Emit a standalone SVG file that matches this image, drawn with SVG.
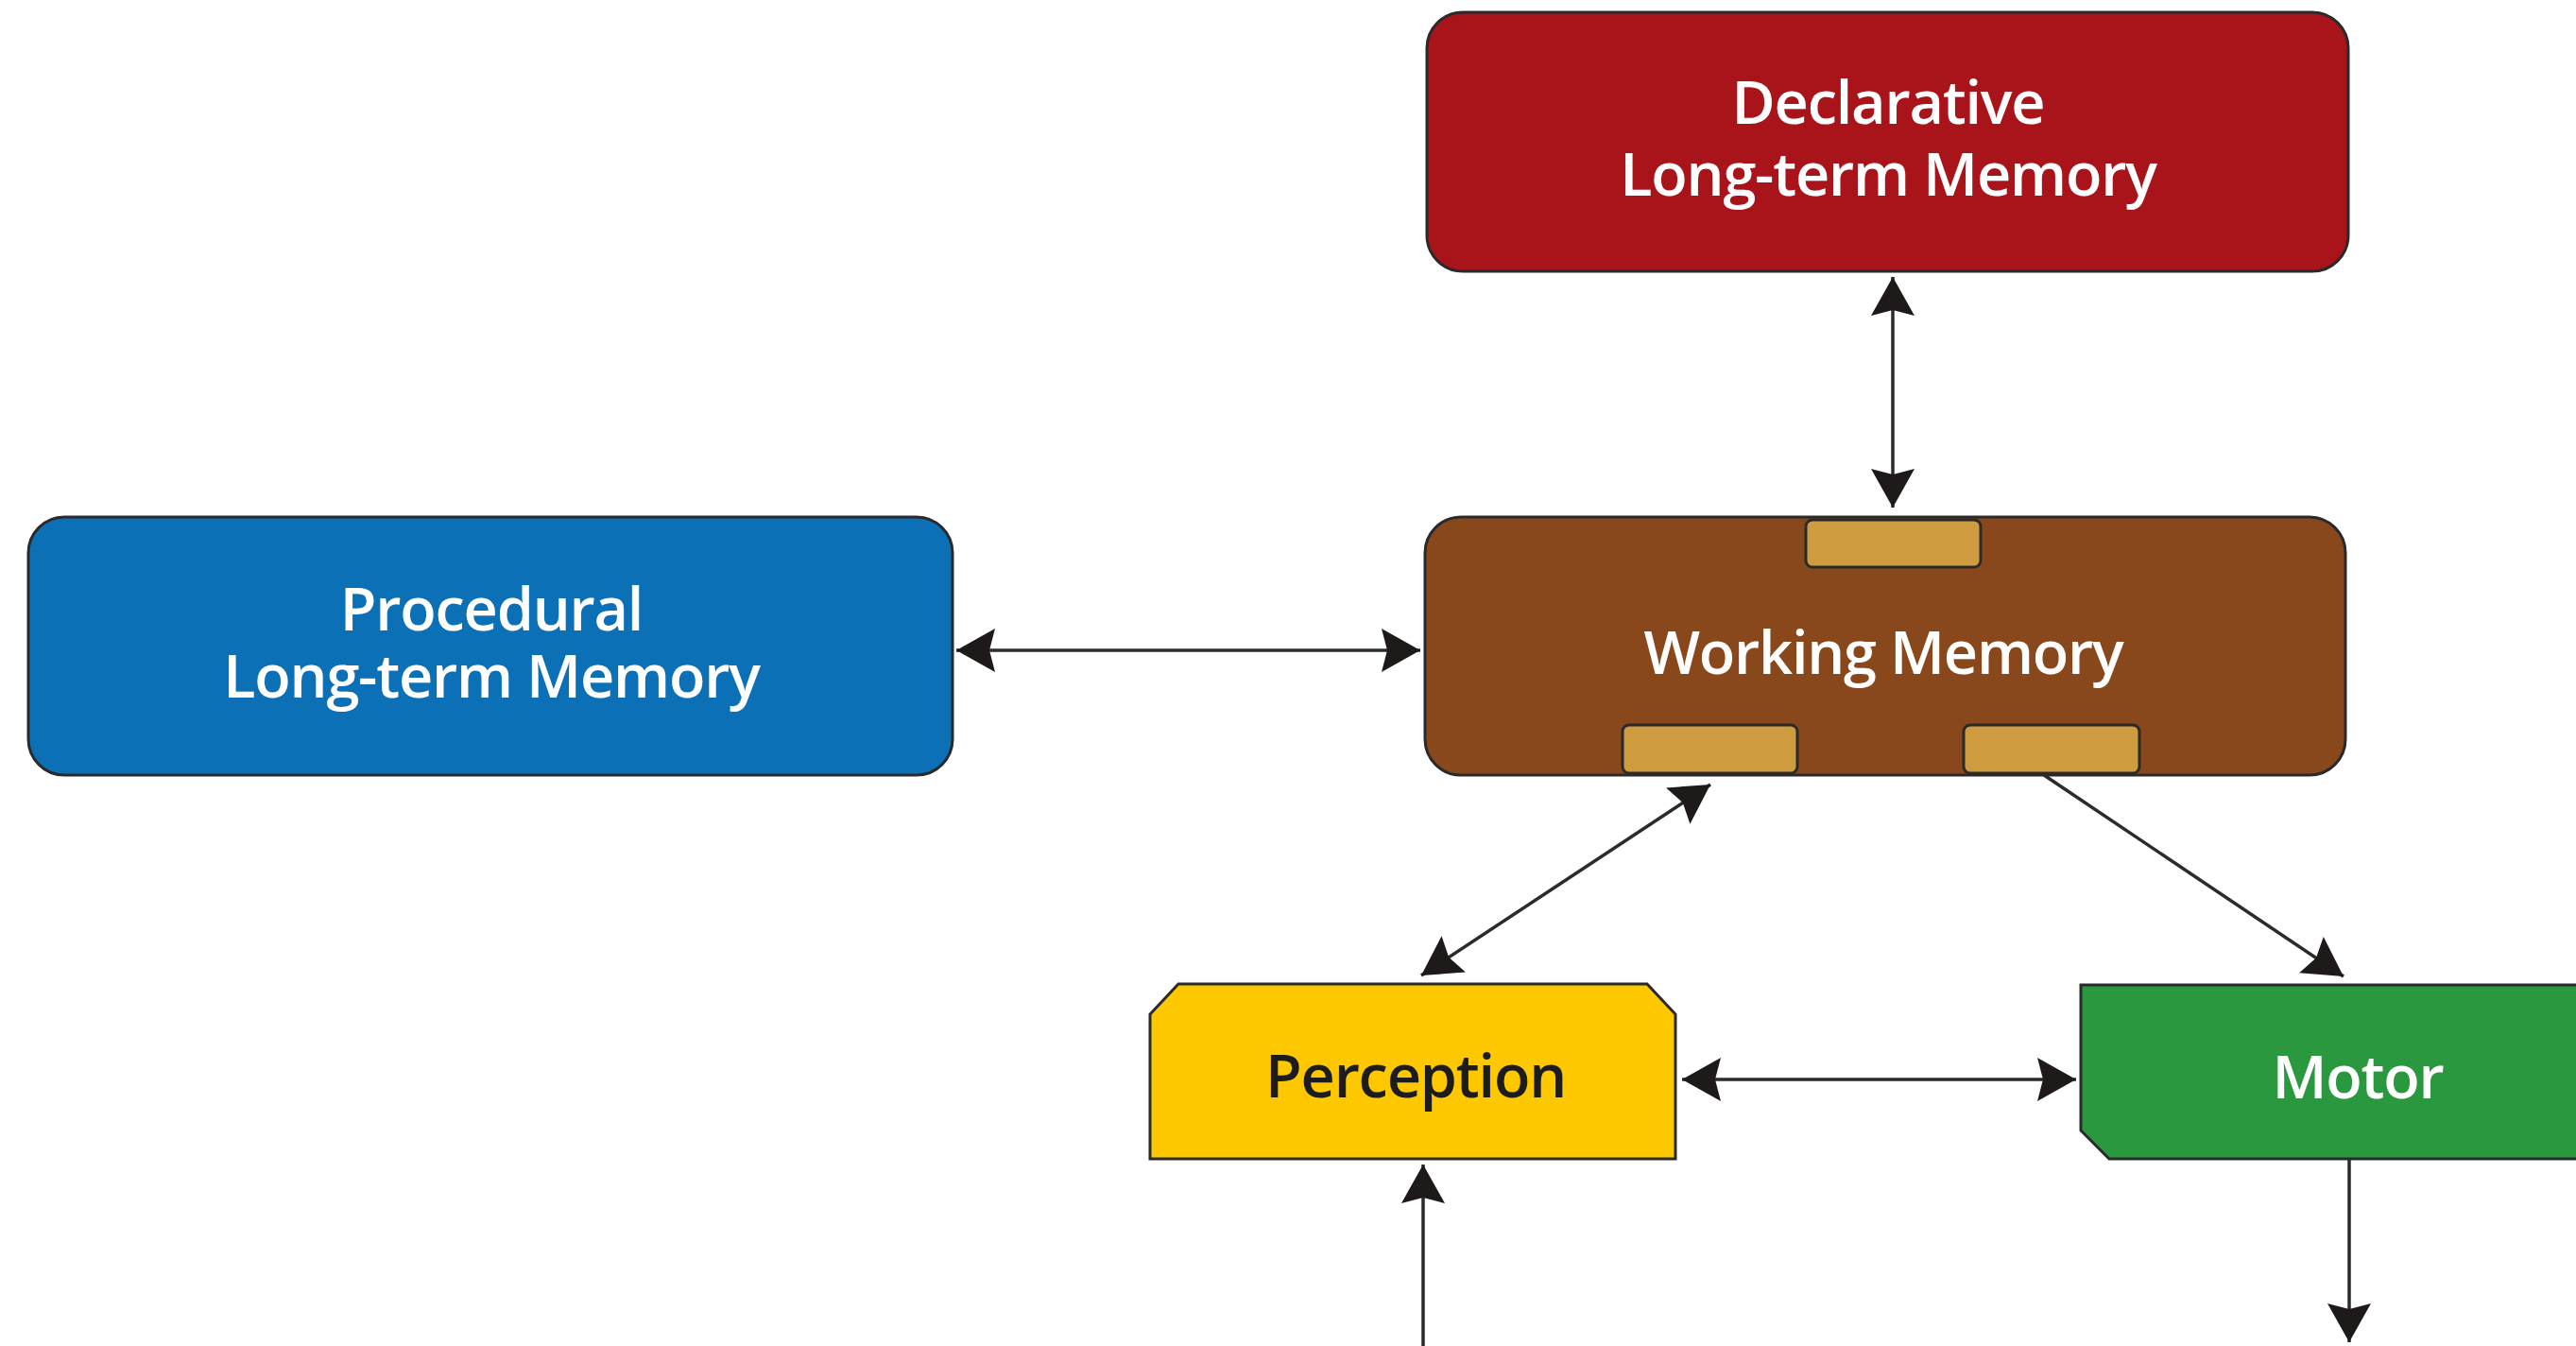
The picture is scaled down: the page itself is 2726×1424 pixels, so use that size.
<svg xmlns="http://www.w3.org/2000/svg" width="2726" height="1424" viewBox="0 0 2726 1424">
  <style>
    .box { stroke: #2a2a2a; stroke-width: 3; }
    .tab { fill: #CF9B3F; stroke: #2a2a2a; stroke-width: 3; }
    .label { font-family: "Open Sans", "Noto Sans", "Liberation Sans", sans-serif; font-size: 63px; font-weight: 600; letter-spacing: -1.2px; text-anchor: middle; fill: #ffffff; }
    .dark { fill: #1c1c1c; }
    .link { fill: none; stroke: #2b2b2b; stroke-width: 3.5; }
  </style>
  <defs>
    <marker id="head" viewBox="-44 -26 46 52" markerUnits="userSpaceOnUse" markerWidth="46" markerHeight="52" refX="0" refY="0" orient="auto-start-reverse">
      <path d="M0,0 L-41,-23 L-35,0 L-41,23 Z" fill="#1e1a1a"/>
    </marker>
  </defs>

  <rect width="2726" height="1424" fill="#ffffff"/>

  <g id="connectors">
    <!-- Declarative <-> Working Memory -->
    <line class="link" x1="2003" y1="293" x2="2003" y2="537" marker-start="url(#head)" marker-end="url(#head)"/>
    <!-- Procedural <-> Working Memory -->
    <line class="link" x1="1012" y1="688" x2="1503" y2="688" marker-start="url(#head)" marker-end="url(#head)"/>
    <!-- Working Memory <-> Perception -->
    <line class="link" x1="1810" y1="830" x2="1504" y2="1032" marker-start="url(#head)" marker-end="url(#head)"/>
    <!-- Working Memory -> Motor -->
    <line class="link" x1="2163" y1="820" x2="2480" y2="1033" marker-end="url(#head)"/>
    <!-- Perception <-> Motor -->
    <line class="link" x1="1780" y1="1142" x2="2197" y2="1142" marker-start="url(#head)" marker-end="url(#head)"/>
    <!-- input into Perception -->
    <line class="link" x1="1506" y1="1424" x2="1506" y2="1232" marker-end="url(#head)"/>
    <!-- output from Motor -->
    <line class="link" x1="2486" y1="1226" x2="2486" y2="1420" marker-end="url(#head)"/>
  </g>

  <g id="declarative">
    <rect class="box" x="1510" y="13" width="975" height="274" rx="38" fill="#A81419"/>
    <text class="label" x="1998" y="131">Declarative</text>
    <text class="label" x="1998" y="207">Long-term Memory</text>
  </g>

  <g id="procedural">
    <rect class="box" x="30" y="547" width="978" height="273" rx="38" fill="#0C70B7"/>
    <text class="label" x="520" y="667">Procedural</text>
    <text class="label" x="520" y="738">Long-term Memory</text>
  </g>

  <g id="working-memory">
    <rect class="box" x="1508" y="547" width="974" height="273" rx="38" fill="#88481C"/>
    <rect class="tab" x="1911" y="550" width="185" height="50" rx="7"/>
    <rect class="tab" x="1717" y="767" width="185" height="51" rx="7"/>
    <rect class="tab" x="2078" y="767" width="186" height="51" rx="7"/>
    <text class="label" x="1993" y="713">Working Memory</text>
  </g>

  <g id="perception">
    <polygon class="box" points="1247,1041 1743,1041 1773,1073 1773,1226 1217,1226 1217,1073" fill="#FDC800"/>
    <text class="label dark" x="1498" y="1161">Perception</text>
  </g>

  <g id="motor">
    <polygon class="box" points="2202,1042 2780,1042 2780,1226 2232,1226 2202,1196" fill="#2A983E"/>
    <text class="label" x="2495" y="1162">Motor</text>
  </g>
</svg>
